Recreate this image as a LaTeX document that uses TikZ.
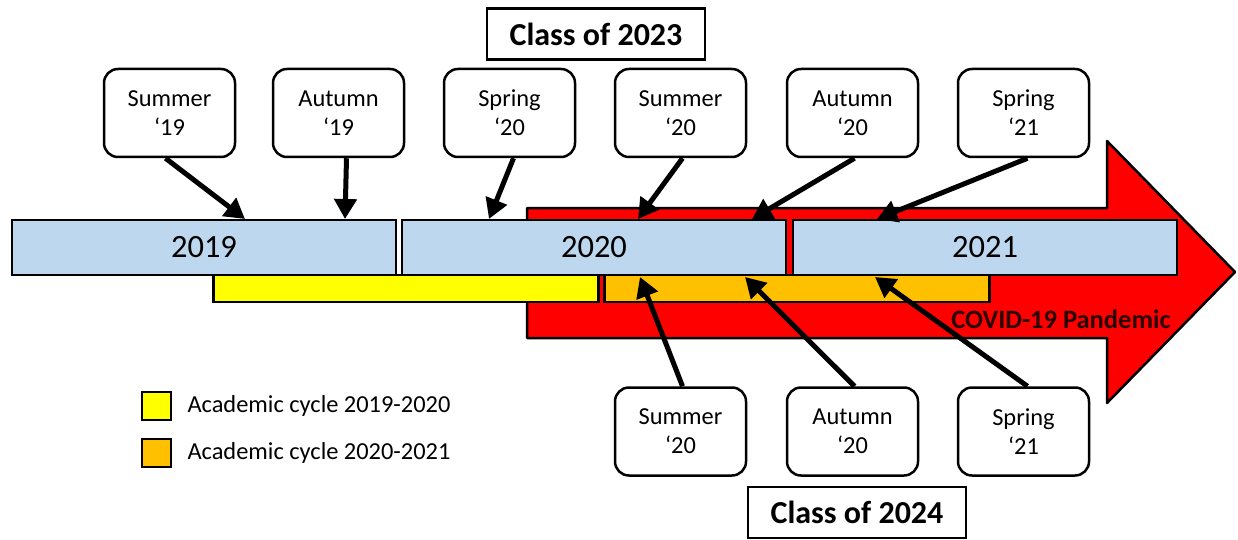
\documentclass[tikz,border=0pt]{standalone}
\usepackage{fontspec}
\setmainfont{Carlito}
\usetikzlibrary{arrows.meta,positioning}
\definecolor{barblue}{RGB}{189,215,238}
\definecolor{cycleyellow}{RGB}{255,255,0}
\definecolor{cycleorange}{RGB}{255,192,0}
\definecolor{covidred}{RGB}{255,0,0}
\definecolor{covidtext}{RGB}{40,0,0}

\begin{document}
\begin{tikzpicture}[x=1pt, y=-1pt,
  yearbar/.style={draw, line width=2.5pt, fill=barblue, inner sep=0pt,
    minimum width=384pt, minimum height=55pt, font=\fontsize{32.5}{34}\selectfont},
  cyclebar/.style={draw, line width=2.5pt, inner sep=0pt,
    minimum width=385pt, minimum height=27pt},
  term/.style={draw, line width=2.5pt, rounded corners=14pt, fill=white,
    minimum width=131pt, minimum height=88pt, align=center,
    font=\fontsize{24.4}{29}\selectfont},
  classbox/.style={draw, line width=2.5pt, fill=white, minimum width=218pt,
    minimum height=51pt, font=\bfseries\fontsize{32}{34}\selectfont},
  legendbox/.style={draw, line width=2.5pt, minimum width=29pt, minimum height=28pt},
  legendtext/.style={anchor=west, font=\fontsize{24.4}{26}\selectfont},
  pointer/.style={line width=5pt, -{Triangle[length=20pt,width=22pt]}}]

  \useasboundingbox (0,0) rectangle (1238,540);

  \newcommand\topY{113}
  \newcommand\botY{431.5}

  %% pandemic arrow
  \draw[line width=2.5pt, line join=round, fill=covidred]
    (527,208) -- (1107,208) -- (1107,141) -- (1235,272) -- (1107,403)
    -- (1107,338) -- (527,338) -- cycle;
  \node[font=\bfseries\fontsize{26.5}{28}\selectfont, text=covidtext] (covid)
    at (1061,319) {COVID-19 Pandemic};

  %% academic cycles
  \node[cyclebar, fill=cycleyellow] (c1920) at (406,288.5) {};
  \node[cyclebar, fill=cycleorange] (c2021) at (797,288.5) {};

  %% years
  \node[yearbar] (y19) at (204,247.5) {2019};
  \node[yearbar] (y20) at (594,247.5) {2020};
  \node[yearbar] (y21) at (985,247.5) {2021};

  %% class of 2023
  \node[term] (su19) at (169.5,\topY) {Summer\\‘19};
  \node[term] (au19) at (338.5,\topY) {Autumn\\‘19};
  \node[term] (sp20) at (509.5,\topY) {Spring\\‘20};
  \node[term] (su20) at (680.5,\topY) {Summer\\‘20};
  \node[term] (au20) at (852.5,\topY) {Autumn\\‘20};
  \node[term] (sp21) at (1023.5,\topY) {Spring\\‘21};
  \node[classbox] (c2023) at (596,34) {Class of 2023};

  %% class of 2024
  \node[term] (bsu20) at (680.5,\botY) {Summer\\‘20};
  \node[term] (bau20) at (852.5,\botY) {Autumn\\‘20};
  \node[term] (bsp21) at (1023.5,\botY) {Spring\\‘21};
  \node[classbox] (c2024) at (857,512.5) {Class of 2024};

  \coordinate (t1) at (245,219);
  \coordinate (t2) at (345,219);
  \coordinate (t3) at (489,219);
  \coordinate (t4) at (638,219);
  \coordinate (t5) at (752,219);
  \coordinate (t6) at (877,219);
  \coordinate (b1) at (640,277);
  \coordinate (b2) at (745,277);
  \coordinate (b3) at (875,277);

  \draw[pointer] ([xshift=-4pt]su19.south) -- (t1);
  \draw[pointer] ([xshift=8pt]au19.south) -- (t2);
  \draw[pointer] ([xshift=4pt]sp20.south) -- (t3);
  \draw[pointer] ([xshift=2pt]su20.south) -- (t4);
  \draw[pointer] ([xshift=2pt]au20.south) -- (t5);
  \draw[pointer] ([xshift=4pt]sp21.south) -- (t6);
  \draw[pointer] ([xshift=2pt]bsu20.north) -- (b1);
  \draw[pointer] ([xshift=2pt]bau20.north) -- (b2);
  \draw[pointer] ([xshift=4pt]bsp21.north) -- (b3);

  %% legend
  \node[legendbox, fill=cycleyellow] (ly) at (156.5,406) {};
  \node[legendbox, fill=cycleorange] (lo) at (156.5,453) {};
  \node[legendtext] (lyt) at (184,406) {Academic cycle 2019-2020};
  \node[legendtext] (lot) at (184,453) {Academic cycle 2020-2021};
\end{tikzpicture}
\end{document}
